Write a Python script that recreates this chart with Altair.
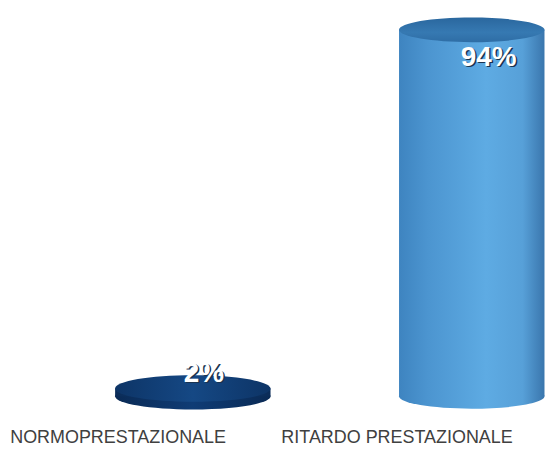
import altair as alt
import pandas as pd

categories = ["NORMOPRESTAZIONALE", "RITARDO PRESTAZIONALE"]
values = [2, 94]
labels = ["2%", "94%"]

df = pd.DataFrame({"cat": categories, "value": values, "label": labels})

ELLIPSE = ("M -1 0 C -1 -0.0939 -0.5523 -0.17 0 -0.17 "
           "C 0.5523 -0.17 1 -0.0939 1 0 "
           "C 1 0.0939 0.5523 0.17 0 0.17 "
           "C -0.5523 0.17 -1 0.0939 -1 0 Z")


def hgrad(stops, vertical=False):
    return alt.Gradient(
        gradient="linear",
        stops=[alt.GradientStop(color=c, offset=o) for o, c in stops],
        x1=0, x2=0 if vertical else 1, y1=0, y2=1 if vertical else 0,
    )


xenc = alt.X(
    "cat:N",
    sort=categories,
    scale=alt.Scale(domain=categories, paddingInner=0.082, paddingOuter=0),
    axis=alt.Axis(title=None, domain=False, ticks=False, labelAngle=0, labelLimit=0,
                  labelFont="Liberation Sans", labelFontSize=18,
                  labelColor="#404040", labelPadding=32, labelOffset=-18),
)
yscale = alt.Scale(domain=[0, 99.4], nice=False, zero=True)
yenc = alt.Y("value:Q", scale=yscale, axis=None)
y0 = alt.Y("zero:Q", scale=yscale, axis=None)

OFF = 57


def cylinder(cat, width, body, top, bottom, tdx, tdy):
    base = alt.Chart(df).transform_filter(alt.datum.cat == cat).transform_calculate(zero="0")
    bot = base.mark_point(shape=ELLIPSE, filled=True, fill=bottom, strokeWidth=0,
                          opacity=1, xOffset=OFF).encode(x=xenc, y=y0,
                                                          size=alt.value(width * width))
    bod = base.mark_bar(width=width, fill=body, xOffset=OFF).encode(
        x=xenc, y=yenc, y2=alt.Y2("zero:Q"))
    tp = base.mark_point(shape=ELLIPSE, filled=True, fill=top, strokeWidth=0,
                         opacity=1, xOffset=OFF).encode(x=xenc, y=yenc,
                                                         size=alt.value(width * width))
    shadow = base.mark_text(font="Liberation Sans", fontSize=28, fontWeight="bold",
                            color="#1a3350", xOffset=OFF, dx=tdx + 1.5, dy=tdy + 1.5,
                            baseline="middle", align="center").encode(
        x=xenc, y=yenc, text="label:N")
    txt = base.mark_text(font="Liberation Sans", fontSize=28, fontWeight="bold",
                         color="#ffffff", xOffset=OFF, dx=tdx, dy=tdy,
                         baseline="middle", align="center").encode(
        x=xenc, y=yenc, text="label:N")
    return [bot, bod, tp, shadow, txt]


navy_body = hgrad([(0, "#0b2c58"), (0.5, "#12437f"), (1, "#0b2c58")])
navy_top = hgrad([(0, "#0d3466"), (0.5, "#154884"), (1, "#0d3466")])
navy_bot = hgrad([(0, "#0a2a55"), (0.5, "#0f3c75"), (1, "#0a2a55")])

blue_body = hgrad([(0, "#3e84c0"), (0.2, "#4c95d0"), (0.6, "#5eabe3"),
                   (0.85, "#57a0d8"), (1, "#3a76ad")])
blue_top = hgrad([(0, "#2a679e"), (0.6, "#3679b2"), (1, "#2e6da5")], vertical=True)

layers = (cylinder(categories[0], 156, navy_body, navy_top, navy_bot, 11, -15)
          + cylinder(categories[1], 146, blue_body, blue_top, blue_body, 17, 28))

chart = alt.layer(*layers).properties(
    width=537, height=389, padding=0, background="white"
).configure_view(stroke=None)

chart.save("out.html", embed_options={"renderer": "svg", "actions": False})
